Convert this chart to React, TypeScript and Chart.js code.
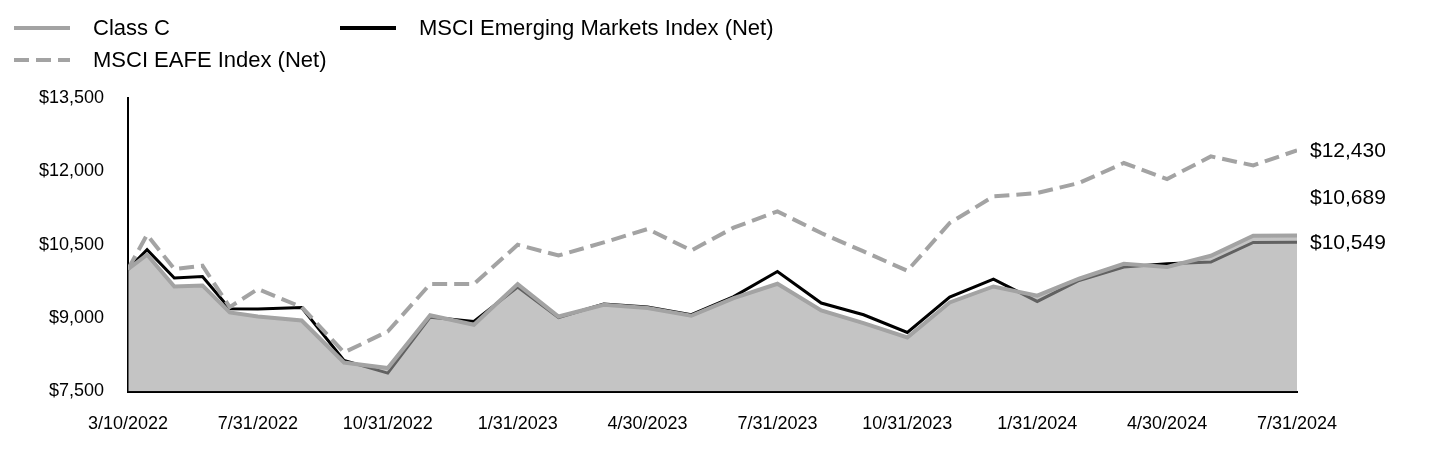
import React, { useEffect, useRef } from "react";
import { Chart, registerables } from "chart.js";

Chart.register(...registerables);

// ---- Data ----
const dates = [
  "2022-03-10", "2022-03-31", "2022-04-30", "2022-05-31", "2022-06-30", "2022-07-31",
  "2022-08-31", "2022-09-30", "2022-10-31", "2022-11-30", "2022-12-31", "2023-01-31",
  "2023-02-28", "2023-03-31", "2023-04-30", "2023-05-31", "2023-06-30", "2023-07-31",
  "2023-08-31", "2023-09-30", "2023-10-31", "2023-11-30", "2023-12-31", "2024-01-31",
  "2024-02-29", "2024-03-31", "2024-04-30", "2024-05-31", "2024-06-30", "2024-07-31",
];

const tickLabels = [
  "3/10/2022", "7/31/2022", "10/31/2022", "1/31/2023", "4/30/2023",
  "7/31/2023", "10/31/2023", "1/31/2024", "4/30/2024", "7/31/2024",
];

const classC = [
  10000, 10295, 9647, 9668, 9116, 9034, 8952, 8093, 7979, 9060,
  8864, 9696, 9034, 9273, 9205, 9048, 9410, 9702, 9157, 8899,
  8604, 9320, 9647, 9460, 9805, 10111, 10044, 10275, 10684, 10689,
];

const eafe = [
  10000, 10704, 10003, 10071, 9226, 9594, 9226, 8298, 8727, 9696,
  9696, 10500, 10281, 10547, 10821, 10384, 10850, 11181, 10739, 10363,
  9968, 10944, 11488, 11557, 11762, 12171, 11843, 12306, 12122, 12430,
];

const em = [
  10000, 10398, 9819, 9852, 9191, 9185, 9218, 8134, 7876, 9020,
  8932, 9635, 9013, 9290, 9226, 9069, 9440, 9954, 9308, 9069,
  8707, 9430, 9799, 9341, 9770, 10044, 10111, 10146, 10547, 10549,
];

const seriesNames = ["Class C", "MSCI EAFE Index (Net)", "MSCI Emerging Markets Index (Net)"];

const yMin = 7500;
const yMax = 13500;
const yStep = 1500;

// ---- helpers ----
const FONT = "'Liberation Sans', Arial, Helvetica, sans-serif";

function parseMDY(s: string) {
  const [m, d, y] = s.split("/").map(Number);
  return Date.UTC(y, m - 1, d);
}
function parseISO(s: string) {
  const [y, m, d] = s.split("-").map(Number);
  return Date.UTC(y, m - 1, d);
}
const tickTimes = tickLabels.map(parseMDY);
function toAxisX(t: number) {
  for (let k = 0; k < tickTimes.length - 1; k++) {
    if (t <= tickTimes[k + 1]) {
      return k + (t - tickTimes[k]) / (tickTimes[k + 1] - tickTimes[k]);
    }
  }
  return tickTimes.length - 1;
}
const xs = dates.map((d) => toAxisX(parseISO(d)));
const pts = (vals: number[]) => vals.map((v, i) => ({ x: xs[i], y: v }));
const money = (v: number) => "$" + Math.round(v).toLocaleString("en-US");

const LIGHT = "#a3a3a3";

const legendPlugin = {
  id: "customLegend",
  afterDraw(chart: any) {
    const ctx = chart.ctx;
    const items = [
      { name: seriesNames[0], color: LIGHT, dash: [] as number[], width: 4, x: 14, y: 28 },
      { name: seriesNames[1], color: LIGHT, dash: [15, 7], width: 4, x: 14, y: 60 },
      { name: seriesNames[2], color: "#000", dash: [] as number[], width: 4, x: 340, y: 28 },
    ];
    ctx.save();
    items.forEach((it) => {
      ctx.beginPath();
      ctx.setLineDash(it.dash);
      ctx.strokeStyle = it.color;
      ctx.lineWidth = it.width;
      ctx.moveTo(it.x, it.y);
      ctx.lineTo(it.x + 56, it.y);
      ctx.stroke();
      ctx.setLineDash([]);
      ctx.fillStyle = "#000";
      ctx.font = `22px ${FONT}`;
      ctx.textBaseline = "middle";
      ctx.textAlign = "left";
      ctx.fillText(it.name, it.x + 79, it.y + 1);
    });
    ctx.restore();
  },
};

const endLabelPlugin = {
  id: "endLabels",
  afterDatasetsDraw(chart: any) {
    const ctx = chart.ctx;
    const area = chart.chartArea;
    const labels: { y: number; text: string }[] = [];
    chart.data.datasets.forEach((ds: any, i: number) => {
      const meta = chart.getDatasetMeta(i);
      const last = meta.data[meta.data.length - 1];
      const v = ds.data[ds.data.length - 1].y;
      labels.push({ y: last.y, text: money(v) });
    });
    labels.sort((a, b) => b.y - a.y);
    const gap = 45;
    let limit = Infinity;
    labels.forEach((l) => {
      l.y = Math.min(l.y, limit);
      limit = l.y - gap;
    });
    ctx.save();
    ctx.fillStyle = "#000";
    ctx.font = `21px ${FONT}`;
    ctx.textBaseline = "middle";
    ctx.textAlign = "left";
    labels.forEach((l) => ctx.fillText(l.text, area.right + 13, l.y + 1));
    ctx.restore();
  },
};

export default function App() {
  const canvasRef = useRef<HTMLCanvasElement>(null);

  useEffect(() => {
    if (!canvasRef.current) return;
    const chart = new Chart(canvasRef.current, {
      type: "line",
      data: {
        datasets: [
          {
            label: seriesNames[0],
            data: pts(classC),
            borderColor: LIGHT,
            borderWidth: 4,
            backgroundColor: "rgba(158,158,158,0.61)",
            fill: "start",
            pointRadius: 0,
            tension: 0,
            order: 1,
          },
          {
            label: seriesNames[1],
            data: pts(eafe),
            borderColor: LIGHT,
            borderWidth: 4,
            borderDash: [15, 7],
            fill: false,
            pointRadius: 0,
            tension: 0,
            order: 0,
          },
          {
            label: seriesNames[2],
            data: pts(em),
            borderColor: "#000",
            borderWidth: 3,
            fill: false,
            pointRadius: 0,
            tension: 0,
            order: 2,
          },
        ],
      },
      options: {
        animation: false,
        responsive: true,
        maintainAspectRatio: false,
        layout: { padding: { top: 98, right: 143, bottom: 16.5, left: 0 } },
        plugins: {
          legend: { display: false },
          tooltip: { enabled: false },
        },
        scales: {
          x: {
            type: "linear",
            min: 0,
            max: tickLabels.length - 1,
            afterBuildTicks: (scale: any) => {
              scale.ticks = tickLabels.map((_, i) => ({ value: i }));
            },
            afterFit: (scale: any) => {
              scale.height = 60;
            },
            grid: { display: false, drawTicks: false },
            border: { display: true, color: "#000", width: 2 },
            ticks: {
              autoSkip: false,
              maxRotation: 0,
              padding: 22,
              color: "#000",
              font: { family: FONT, size: 18 },
              callback: (v: any) => tickLabels[Math.round(Number(v))] ?? "",
            },
          },
          y: {
            min: yMin,
            max: yMax,
            afterFit: (scale: any) => {
              scale.width = 128;
            },
            grid: { display: false, drawTicks: false },
            border: { display: true, color: "#000", width: 2 },
            ticks: {
              stepSize: yStep,
              padding: 24,
              color: "#000",
              font: { family: FONT, size: 18 },
              callback: (v: any) => money(Number(v)),
            },
          },
        },
      },
      plugins: [legendPlugin, endLabelPlugin],
    } as any);
    return () => chart.destroy();
  }, []);

  return (
    <div style={{ position: "absolute", left: 0, top: 0, width: 1440, height: 468, background: "#fff" }}>
      <canvas ref={canvasRef} />
    </div>
  );
}
